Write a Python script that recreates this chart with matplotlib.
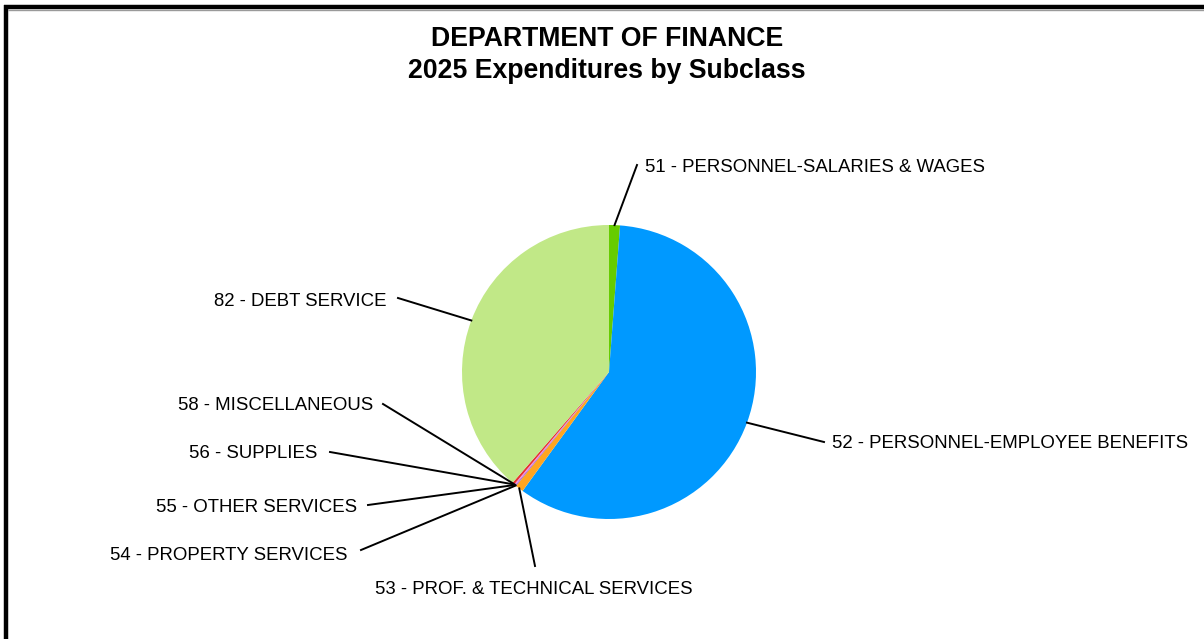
import numpy as np
import matplotlib
matplotlib.use("Agg")
import matplotlib.pyplot as plt
from matplotlib.lines import Line2D

# Expenditure subclasses and their share of the 2025 budget (percent)
categories = [
    "51 - PERSONNEL-SALARIES & WAGES",
    "52 - PERSONNEL-EMPLOYEE BENEFITS",
    "53 - PROF. & TECHNICAL SERVICES",
    "54 - PROPERTY SERVICES",
    "55 - OTHER SERVICES",
    "56 - SUPPLIES",
    "58 - MISCELLANEOUS",
    "82 - DEBT SERVICE",
]
shares = [1.2, 58.8, 0.9, 0.1, 0.1, 0.05, 0.25, 38.6]
colors = ["#66CC00", "#0099FF", "#FFA520", "#8A6BD8", "#FF66CC",
          "#CC99FF", "#E83030", "#C1E887"]

W, H = 1204, 639
fig = plt.figure(figsize=(W / 100, H / 100), dpi=100)
ax = fig.add_axes([0, 0, 1, 1])


def py(y):
    """Convert a top-down pixel row to the axes' bottom-up y."""
    return H - y


font = "Liberation Sans"

# Pie
cx, cy, r = 609, py(372), 147
wedges, _ = ax.pie(shares, colors=colors, startangle=90, counterclock=False,
                   center=(cx, cy), radius=r, frame=True,
                   wedgeprops=dict(linewidth=0))
ax.set_xlim(0, W)
ax.set_ylim(0, H)
ax.set_aspect("equal")
ax.axis("off")

# Outer frame (top and left edges visible)
ax.add_line(Line2D([4, W], [py(7), py(7)], color="black", lw=3.2, solid_capstyle="butt"))
ax.add_line(Line2D([8, W], [py(9.7), py(9.7)], color="#9a9a9a", lw=1.0, solid_capstyle="butt"))
ax.add_line(Line2D([6, 6], [py(5), 0], color="black", lw=3.2, solid_capstyle="butt"))

# Titles
ax.text(607, py(38.5), "DEPARTMENT OF FINANCE", ha="center", va="center",
        fontsize=19.2, fontweight="bold", family=font)
ax.text(607, py(71.5), "2025 Expenditures by Subclass", ha="center", va="center",
        fontsize=19.2, fontweight="bold", family=font)

# Label anchors: (text x, text y, alignment, leader start x, leader start y)
label_layout = [
    (645, 168, "left", 637, 165),
    (832, 444, "left", 824, 442),
    (375, 589, "left", 535, 566),
    (348, 555, "right", 361, 550),
    (357, 508, "right", 368, 505),
    (317, 454, "right", 330, 452),
    (373, 406, "right", 383, 404),
    (386, 302, "right", 398, 298),
]

for w, name, (tx, ty, ha, lx, ly) in zip(wedges, categories, label_layout):
    mid = np.deg2rad((w.theta1 + w.theta2) / 2)
    ex = cx + r * np.cos(mid)
    ey = cy + r * np.sin(mid)
    ax.add_line(Line2D([lx, ex], [py(ly), ey], color="black", lw=1.4))
    ax.text(tx, py(ty), name, ha=ha, va="center", fontsize=13.4, family=font)

fig.savefig("out.png", dpi=100)
